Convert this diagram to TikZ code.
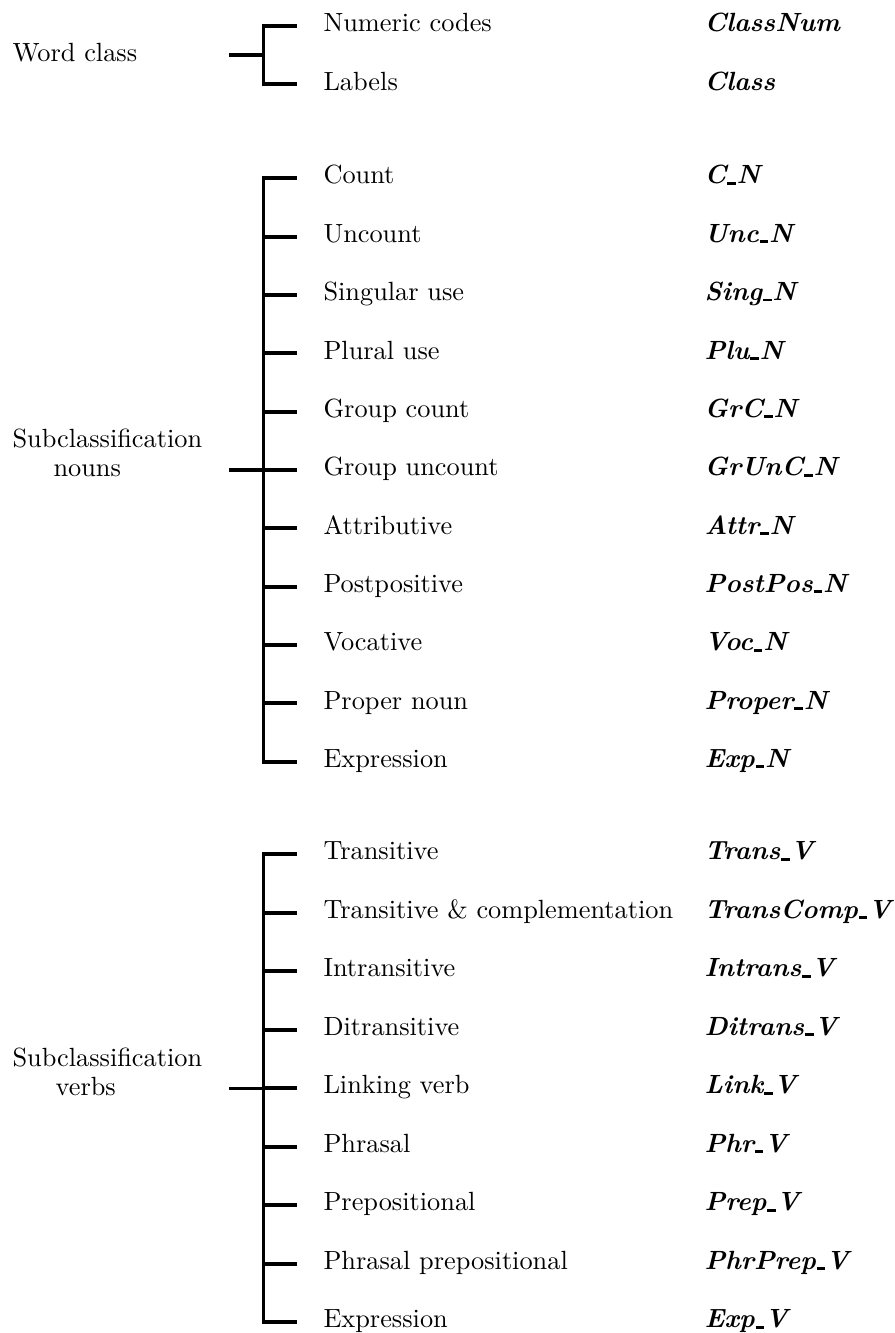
\documentclass[tikz,border=0pt]{standalone}
\usepackage{tikz}
\usetikzlibrary{positioning}
\newcommand{\usc}{\kern.03em\rule[-0.3pt]{0.33em}{1.1pt}\kern.03em}

\tikzset{
  item/.style={anchor=mid west,inner sep=0pt},
  code/.style={anchor=mid west,inner sep=0pt,font=\bfseries\itshape},
  grp/.style={anchor=base west,inner sep=0pt,align=left},
  brk/.style={line width=1.5pt}
}

\begin{document}
\begin{tikzpicture}[x=0.38pt,y=-0.38pt]
  \useasboundingbox (0,0) rectangle (895,1333);
  % word class
  \node[grp] (wc) at (12,61.5) {Word class};
  \coordinate (wstub) at (229,55);
  \coordinate (wspine) at (263.5,55);
  \coordinate (wtip) at (297,55);
  \foreach \txt/\cd [count=\i] in {Numeric codes/ClassNum, Labels/Class} {
    \node[item] (w\i) at (323,26+58.4*\i-58.4) {\txt};
    \node[code] (wc\i) at (704,26+58.4*\i-58.4) {\cd};
  }
  \draw[brk] (wtip |- w1.mid west) -| (wspine) |- (wtip |- w2.mid west);
  \draw[brk] (wstub) -- (wspine);

  % nouns
  \node[grp] (nouns) at (12,476.5) {Subclassification\\[-1pt]\hspace*{15.6pt}nouns};
  \coordinate (nstub) at (229,470);
  \coordinate (nspine) at (263.5,470);
  \coordinate (ntip) at (297,470);
  \foreach \txt/\cd [count=\i] in {Count/C\usc N, Uncount/Unc\usc N,
      Singular use/Sing\usc N, Plural use/Plu\usc N, Group count/GrC\usc N,
      Group uncount/GrUnC\usc N, Attributive/Attr\usc N,
      Postpositive/PostPos\usc N, Vocative/Voc\usc N,
      Proper noun/Proper\usc N, Expression/Exp\usc N} {
    \node[item] (n\i) at (323,178.3+58.35*\i-58.35) {\txt};
    \node[code] (nc\i) at (704,178.3+58.35*\i-58.35) {\cd};
  }
  \draw[brk] (ntip |- n1.mid west) -| (nspine) |- (ntip |- n11.mid west);
  \foreach \i in {2,...,10}
    \draw[brk] (nspine |- n\i.mid west) -- (ntip |- n\i.mid west);
  \draw[brk] (nstub) -- (nspine);

  % verbs
  \node[grp] (verbs) at (12,1095) {Subclassification\\[-1pt]\hspace*{16.4pt}verbs};
  \coordinate (vstub) at (229,1088.5);
  \coordinate (vspine) at (263.5,1088.5);
  \coordinate (vtip) at (297,1088.5);
  \foreach \txt/\cd [count=\i] in {Transitive/Trans\usc V,
      Transitive \& complementation/TransComp\usc V,
      Intransitive/Intrans\usc V, Ditransitive/Ditrans\usc V,
      Linking verb/Link\usc V, Phrasal/Phr\usc V, Prepositional/Prep\usc V,
      Phrasal prepositional/PhrPrep\usc V, Expression/Exp\usc V} {
    \node[item] (v\i) at (323,854.3+58.5*\i-58.5) {\txt};
    \node[code] (vc\i) at (704,854.3+58.5*\i-58.5) {\cd};
  }
  \draw[brk] (vtip |- v1.mid west) -| (vspine) |- (vtip |- v9.mid west);
  \foreach \i in {2,...,8}
    \draw[brk] (vspine |- v\i.mid west) -- (vtip |- v\i.mid west);
  \draw[brk] (vstub) -- (vspine);
\end{tikzpicture}
\end{document}
